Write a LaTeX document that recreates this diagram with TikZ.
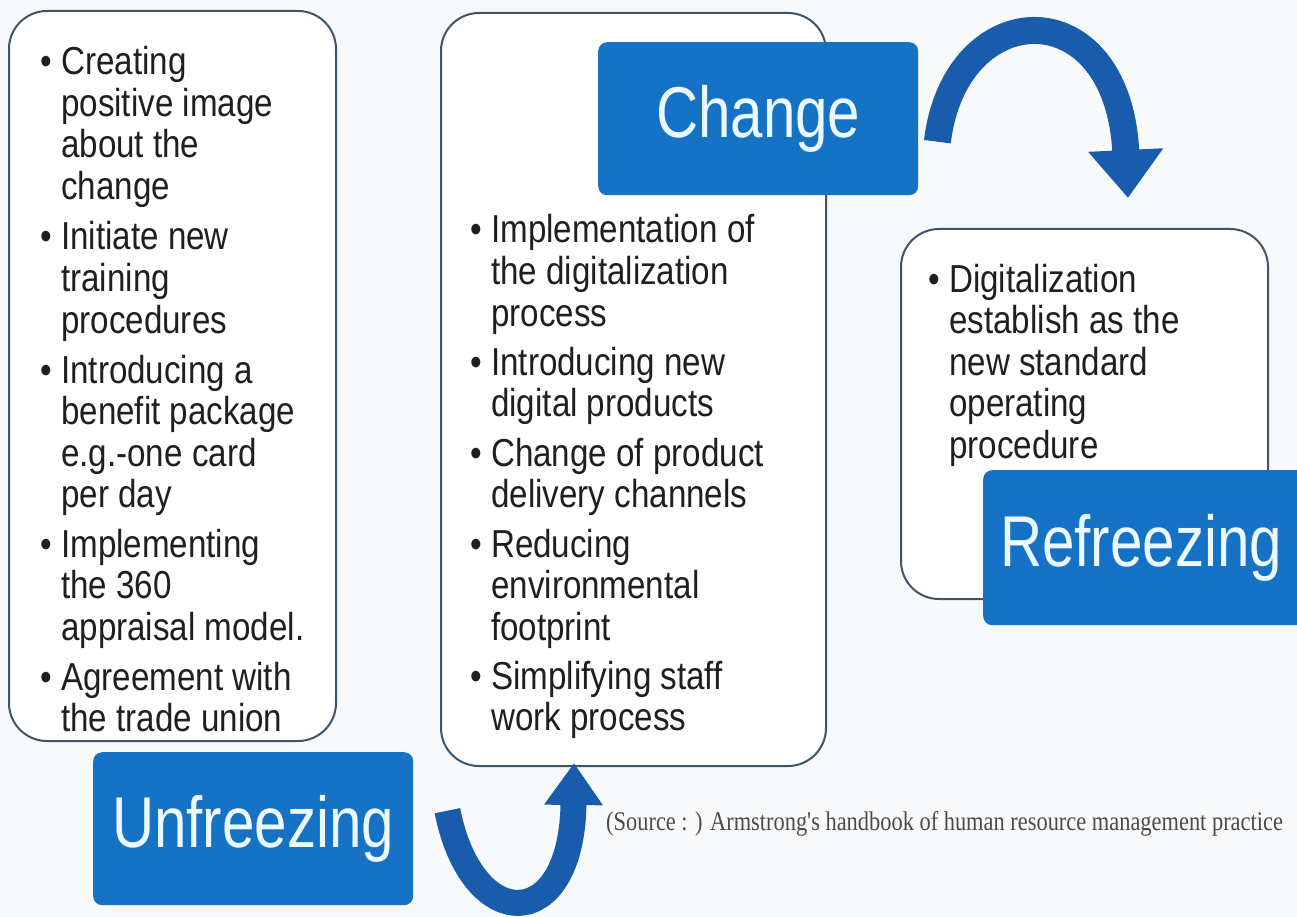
\documentclass[tikz,border=0pt]{standalone}
\usepackage{fontspec}
\setmainfont{Liberation Sans}[FakeStretch=0.85]
\newfontfamily\lblfont{Liberation Sans}[FakeStretch=0.81]
\newfontfamily\srcfont{Liberation Serif}[FakeStretch=0.83]
\usetikzlibrary{arrows.meta,calc}
\definecolor{bg}{RGB}{248,249,251}
\definecolor{panelline}{RGB}{62,84,104}
\definecolor{labelblue}{RGB}{22,114,196}
\definecolor{arrowblue}{RGB}{25,92,172}
\definecolor{labeltext}{RGB}{236,248,255}
\definecolor{srcgray}{RGB}{75,75,75}
\begin{document}
\begin{tikzpicture}[x=1pt,y=-1pt,
  panel/.style={draw=panelline, line width=2pt, fill=white, rounded corners=38pt, anchor=north west, inner sep=0pt},
  stagelabel/.style={fill=labelblue, rounded corners=9pt, anchor=north west, inner sep=0pt, text=labeltext, font=\lblfont\fontsize{72}{80}\selectfont},
  item/.style={anchor=base west, inner sep=0pt, font=\fontsize{39}{41.5}\selectfont, text=black!88},
  bigarrow/.style={draw=arrowblue, line width=27pt},
  srctext/.style={anchor=base west, inner sep=0pt, text=srcgray, font=\srcfont\fontsize{27}{30}\selectfont}
]
\useasboundingbox (0,0) rectangle (1297,917);
\fill[bg] (0,0) rectangle (1297,917);
\clip (0,0) rectangle (1297,917);

% panels
\node[panel, minimum width=327pt, minimum height=730pt] (lbox) at (8,10) {};
\node[panel, minimum width=385pt, minimum height=753pt] (mbox) at (440,12) {};
\node[panel, minimum width=367pt, minimum height=370pt] (rbox) at (900,228) {};

% left items
\newcommand{\bu}{\makebox[21pt][l]{•}}
\node[item] (l1) at (40,75) {\begin{tabular}[t]{@{}l@{}l@{}}\bu & Creating\\ & positive image\\ & about the\\ & change\end{tabular}};
\node[item] (l2) at (40,250) {\begin{tabular}[t]{@{}l@{}l@{}}\bu & Initiate new\\ & training\\ & procedures\end{tabular}};
\node[item] (l3) at (40,383) {\begin{tabular}[t]{@{}l@{}l@{}}\bu & Introducing a\\ & benefit package\\ & e.g.-one card\\ & per day\end{tabular}};
\node[item] (l4) at (40,557) {\begin{tabular}[t]{@{}l@{}l@{}}\bu & Implementing\\ & the 360\\ & appraisal model.\end{tabular}};
\node[item] (l5) at (40,690) {\begin{tabular}[t]{@{}l@{}l@{}}\bu & Agreement with\\ & the trade union\end{tabular}};

% middle items
\node[item] (m1) at (470,243) {\begin{tabular}[t]{@{}l@{}l@{}}\bu & Implementation of\\ & the digitalization\\ & process\end{tabular}};
\node[item] (m2) at (470,375) {\begin{tabular}[t]{@{}l@{}l@{}}\bu & Introducing new\\ & digital products\end{tabular}};
\node[item] (m3) at (470,466) {\begin{tabular}[t]{@{}l@{}l@{}}\bu & Change of product\\ & delivery channels\end{tabular}};
\node[item] (m4) at (470,557) {\begin{tabular}[t]{@{}l@{}l@{}}\bu & Reducing\\ & environmental\\ & footprint\end{tabular}};
\node[item] (m5) at (470,689) {\begin{tabular}[t]{@{}l@{}l@{}}\bu & Simplifying staff\\ & work process\end{tabular}};

% right items
\node[item] (r1) at (928,292) {\begin{tabular}[t]{@{}l@{}l@{}}\bu & Digitalization\\ & establish as the\\ & new standard\\ & operating\\ & procedure\end{tabular}};

% stage labels
\node[stagelabel, minimum width=320pt, minimum height=153pt] (unfreeze) at (93,752) {Unfreezing};
\node[stagelabel, minimum width=320pt, minimum height=153pt] (change) at (598,42) {Change};
\node[stagelabel, minimum width=330pt, minimum height=155pt, text width=312pt, align=left] (refreeze) at (983,470) {\hspace*{8pt}Refreezing};

% curved arrows
\draw[bigarrow, -{Triangle[length=48pt,width=72pt]}]
  ($(change.east)+(19,23)$) .. controls (955,-5) and (1118,-12) .. ($(rbox.north)+(43.5,-30)$);
\draw[bigarrow, line width=26pt, -{Triangle[length=42pt,width=56pt]}]
  ($(unfreeze.east)+(34,-18)$) .. controls (472,935) and (572,935) .. ($(mbox.south)+(-59.5,-4)$);

% source
\node[srctext] (src) at (606,830) {(Source : ) Armstrong's handbook of human resource management practice};
\end{tikzpicture}
\end{document}
